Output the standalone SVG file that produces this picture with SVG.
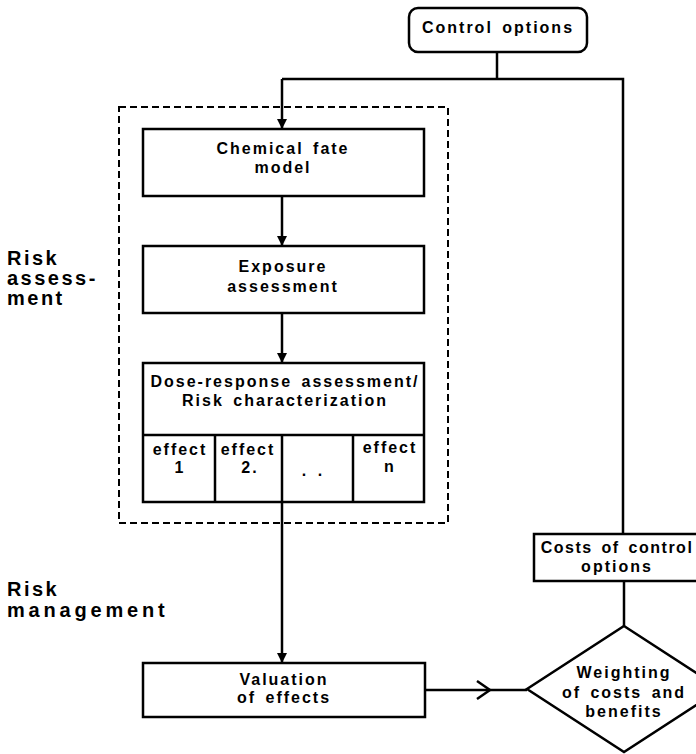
<svg xmlns="http://www.w3.org/2000/svg" width="696" height="754" viewBox="0 0 696 754">
<style>
.box{fill:#fff;stroke:#000;stroke-width:2.5}
.t{font-family:"Liberation Sans",Arial,Helvetica,sans-serif;font-weight:bold;font-size:16px;letter-spacing:2px;word-spacing:3px;text-anchor:middle;fill:#000}
.lbl{font-family:"Liberation Sans",Arial,Helvetica,sans-serif;font-weight:bold;font-size:20px;letter-spacing:2.5px;fill:#000}
.conn{fill:none;stroke:#000;stroke-width:2.5}
.dash{fill:none;stroke:#000;stroke-width:2;stroke-dasharray:7 4}
</style>
<defs>
<marker id="arr" viewBox="0 0 10 10" refX="10" refY="5" markerWidth="4" markerHeight="4" orient="auto" markerUnits="strokeWidth">
<path d="M0,0 L10,5 L0,10 z" fill="#000"/>
</marker>
</defs>
<rect width="696" height="754" fill="#fff"/>

<g id="labels">
<text class="lbl" x="7" y="265">Risk</text>
<text class="lbl" x="7" y="285">assess-</text>
<text class="lbl" x="7" y="305">ment</text>
<text class="lbl" x="7" y="596">Risk</text>
<text class="lbl" x="7" y="617" style="letter-spacing:3.8px">management</text>
</g>

<g id="risk-assessment-boundary">
<rect class="dash" x="119" y="107" width="329" height="416"/>
</g>

<g id="connectors">
<polyline class="conn" points="497,52 497,79"/>
<polyline class="conn" points="282,79 623,79 623,534"/>
<line class="conn" x1="282" y1="79" x2="282" y2="129" marker-end="url(#arr)"/>
<line class="conn" x1="282" y1="196" x2="282" y2="246" marker-end="url(#arr)"/>
<line class="conn" x1="282" y1="313" x2="282" y2="363" marker-end="url(#arr)"/>
<line class="conn" x1="282" y1="502" x2="282" y2="663" marker-end="url(#arr)"/>
<line class="conn" x1="624" y1="581" x2="624" y2="626"/>
<line class="conn" x1="425" y1="690" x2="527" y2="690"/>
<polyline class="conn" points="477,681 490,690 477,699"/>
</g>

<g id="control-options">
<rect class="box" x="409" y="8" width="178" height="44" rx="9"/>
<text class="t" x="498" y="33">Control options</text>
</g>

<g id="chemical-fate-model">
<rect class="box" x="143" y="129" width="281" height="67"/>
<text class="t" x="283" y="154">Chemical fate</text>
<text class="t" x="283" y="173">model</text>
</g>

<g id="exposure-assessment">
<rect class="box" x="143" y="246" width="281" height="67"/>
<text class="t" x="283" y="272">Exposure</text>
<text class="t" x="283" y="292">assessment</text>
</g>

<g id="dose-response">
<rect class="box" x="143" y="363" width="281" height="139"/>
<line class="conn" x1="143" y1="435" x2="424" y2="435"/>
<line class="conn" x1="215" y1="435" x2="215" y2="502"/>
<line class="conn" x1="282" y1="435" x2="282" y2="502"/>
<line class="conn" x1="353" y1="435" x2="353" y2="502"/>
<text class="t" x="285" y="387">Dose-response assessment/</text>
<text class="t" x="285" y="406">Risk characterization</text>
<text class="t" x="180" y="455">effect</text>
<text class="t" x="180" y="473">1</text>
<text class="t" x="248" y="455">effect</text>
<text class="t" x="250" y="473">2.</text>
<text class="t" x="313" y="476">. .</text>
<text class="t" x="390" y="453">effect</text>
<text class="t" x="390" y="472">n</text>
</g>

<g id="valuation-of-effects">
<rect class="box" x="143" y="663" width="282" height="54"/>
<text class="t" x="284" y="685">Valuation</text>
<text class="t" x="284" y="703">of effects</text>
</g>

<g id="costs-of-control-options">
<rect class="box" x="534" y="534" width="170" height="47"/>
<text class="t" x="617" y="553" style="letter-spacing:1.5px">Costs of control</text>
<text class="t" x="617" y="572">options</text>
</g>

<g id="weighting">
<polygon class="box" points="624,626 721,689 624,752 527,689"/>
<text class="t" x="624" y="678">Weighting</text>
<text class="t" x="624" y="698">of costs and</text>
<text class="t" x="624" y="717">benefits</text>
</g>
</svg>
